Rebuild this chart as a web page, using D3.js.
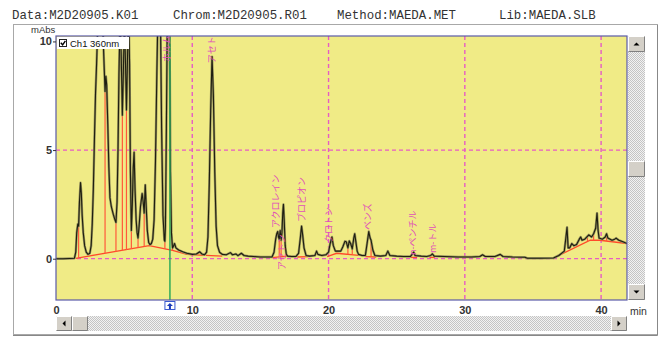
<!DOCTYPE html>
<html>
<head>
<meta charset="utf-8">
<script src="https://cdn.jsdelivr.net/npm/d3@7"></script>
<style>
  body { margin: 0; background: #fff; }
</style>
</head>
<body>
<script>
// header fields of the run
const headerTexts = ["Data:M2D20905.K01", "Chrom:M2D20905.R01", "Method:MAEDA.MET", "Lib:MAEDA.SLB"];

// chromatogram trace, [time min, mAbs]
const trace = [
  [0,0.0],[0.5,0.0],[1.0,0.01],[1.35,0.02],[1.45,0.3],[1.52,1.2],[1.6,1.6],[1.66,1.5],[1.72,2.6],[1.8,3.5],
  [1.86,3.0],[1.92,2.0],[2.0,1.2],[2.1,0.6],[2.22,0.3],[2.35,0.2],[2.48,0.25],[2.58,0.6],[2.66,1.6],[2.74,3.2],
  [2.82,5.5],[2.9,7.6],[2.98,9.0],[3.06,10.6],[3.2,12.5],[3.35,12.5],[3.48,9.8],[3.6,7.7],[3.66,8.4],[3.72,8.0],
  [3.8,6.2],[3.88,4.2],[3.96,2.8],[4.06,2.4],[4.2,2.05],[4.32,1.8],[4.4,1.67],[4.48,2.6],[4.55,5.0],[4.62,8.5],
  [4.7,11.0],[4.78,9.5],[4.87,6.6],[4.95,8.8],[5.02,11.0],[5.1,9.0],[5.17,6.85],[5.24,9.0],[5.32,11.5],[5.4,9.0],
  [5.46,4.0],[5.53,1.3],[5.6,2.5],[5.67,4.2],[5.73,4.9],[5.8,3.2],[5.88,1.8],[5.95,1.2],[6.02,0.95],[6.1,1.5],
  [6.2,2.4],[6.32,3.0],[6.4,2.6],[6.47,2.1],[6.55,3.4],[6.62,2.4],[6.7,1.3],[6.8,0.75],[6.9,0.65],[7.0,0.7],
  [7.1,0.9],[7.2,1.8],[7.3,4.5],[7.4,8.5],[7.5,12],[7.65,12],[7.75,6],[7.85,2.0],[7.95,0.85],[7.99,0.8],
  [8.03,1.5],[8.1,6],[8.18,12],[8.32,12],[8.4,4],[8.47,1.2],[8.55,0.5],[8.6,0.55],[8.7,0.7],[8.8,0.5],
  [9.0,0.4],[9.3,0.32],[9.6,0.25],[10.0,0.2],[10.3,0.22],[10.55,0.32],[10.7,0.22],[10.9,0.18],[11.05,0.3],[11.15,1.0],
  [11.25,3.5],[11.35,6.8],[11.45,9.3],[11.55,7.5],[11.65,4.0],[11.75,1.5],[11.85,0.6],[12.0,0.3],[12.2,0.2],[12.5,0.18],
  [12.8,0.28],[12.95,0.18],[13.2,0.22],[13.35,0.14],[13.6,0.25],[13.8,0.15],[14.1,0.12],[14.5,0.1],[15.0,0.08],[15.5,0.08],
  [15.85,0.08],[16.0,0.3],[16.12,0.9],[16.2,1.15],[16.27,1.25],[16.33,1.0],[16.38,0.9],[16.45,1.3],[16.52,0.85],[16.58,1.2],
  [16.64,2.1],[16.69,2.5],[16.75,1.7],[16.82,0.6],[16.9,0.2],[17.0,0.12],[17.3,0.1],[17.6,0.1],[17.8,0.25],[17.92,0.9],
  [18.02,1.5],[18.1,1.1],[18.2,0.5],[18.35,0.15],[18.6,0.12],[19.0,0.15],[19.12,0.35],[19.22,0.2],[19.5,0.15],[19.8,0.18],
  [20.0,0.3],[20.12,0.7],[20.25,1.0],[20.35,0.6],[20.5,0.35],[20.7,0.35],[20.9,0.35],[21.05,0.55],[21.2,0.8],[21.3,0.78],
  [21.42,0.5],[21.52,0.82],[21.62,0.7],[21.74,0.45],[21.85,0.95],[21.92,1.15],[22.0,0.8],[22.1,0.35],[22.2,0.2],[22.45,0.15],
  [22.7,0.15],[22.85,0.8],[22.95,1.25],[23.05,0.95],[23.12,0.85],[23.25,0.4],[23.4,0.15],[23.8,0.12],[24.2,0.15],[24.35,0.35],
  [24.5,0.15],[25.0,0.12],[25.5,0.1],[26.0,0.1],[26.15,0.22],[26.25,0.3],[26.35,0.15],[26.8,0.12],[27.2,0.1],[27.5,0.15],
  [27.62,0.22],[27.75,0.12],[28.5,0.1],[29.5,0.08],[30.5,0.08],[31.1,0.1],[31.3,0.18],[31.5,0.1],[32.2,0.1],[32.6,0.2],
  [32.8,0.1],[33.5,0.08],[34.4,0.07],[34.6,0.02],[35.5,0.02],[36.5,0.03],[36.9,0.15],[37.3,0.35],[37.42,1.0],[37.5,1.45],
  [37.58,0.5],[37.7,0.5],[37.85,0.7],[38.0,0.6],[38.2,0.65],[38.4,0.9],[38.5,1.0],[38.6,0.85],[38.8,0.9],[39.1,1.1],
  [39.3,1.0],[39.45,1.15],[39.6,1.4],[39.7,2.1],[39.78,1.3],[39.85,0.95],[40.1,0.9],[40.3,1.0],[40.4,1.15],[40.5,0.95],
  [40.8,0.85],[41.0,0.9],[41.1,0.95],[41.3,0.85],[41.6,0.78],[41.9,0.7]
];

// integration baselines (red)
const baselines = [
  [[1.45,0.02],[6.84,0.6],[8.55,0.38],[9.6,0.2],[10.9,0.15]],
  [[11.0,0.15],[12.2,0.12]],
  [[15.85,0.05],[16.95,0.12]],
  [[17.7,0.08],[18.5,0.1]],
  [[19.9,0.1],[20.6,0.25],[22.2,0.15]],
  [[22.7,0.1],[23.5,0.08]],
  [[26.0,0.06],[26.5,0.06]],
  [[27.4,0.06],[27.8,0.06]],
  [[36.5,0.03],[39.2,0.85],[39.9,0.85],[41.9,0.7]]
];

// peak drop lines [time, bottom, top]
const dropLines = [
  [1.66,0.03,1.5],[3.6,0.25,7.7],[4.4,0.32,1.67],[4.87,0.37,6.6],[5.17,0.41,6.85],[5.53,0.45,1.3],
  [6.02,0.5,0.95],[6.47,0.56,2.1],[7.99,0.45,0.8],[8.55,0.38,0.5],
  [16.38,0.09,0.9],[16.52,0.1,0.85],[21.42,0.2,0.5],[21.74,0.18,0.45],[23.12,0.08,0.85],
  [39.0,0.8,1.05],[39.45,0.85,1.15],[40.4,0.82,1.1]
];

// peak names
const labelNames = ["ホルム", "アセト", "アクロレイン", "アセトン", "プロピオン", "クロトン", "ベンズ", "n-ペンチル", "m-トル"];
const labelTimes = [8.14, 11.45, 16.14, 16.58, 18.05, 20.03, 22.89, 26.19, 27.66];
const labelLevels = [9.05, 9.0, 1.41, -0.52, 1.69, 0.72, 1.32, 0.17, 0.26];

const xTicks = [0, 10, 20, 30, 40];
const yTicks = [0, 5, 10];
const gridX = [10, 20, 30, 40];
const gridY = [0, 5];
const cursorTime = 8.36;

const W = 668, H = 338;
const pLeft = 56, pRight = 627, pTop = 36, pBottom = 300;

const x = d3.scaleLinear().domain([0, 41.9]).range([pLeft, pRight]);
const y = d3.scaleLinear().domain([-1.9, 10.25]).range([pBottom, pTop]);

const svg = d3.select("body").append("svg")
    .attr("width", W)
    .attr("height", H)
    .style("display", "block");

const defs = svg.append("defs");
defs.append("clipPath").attr("id", "plotClip")
  .append("rect").attr("x", pLeft).attr("y", pTop).attr("width", pRight - pLeft).attr("height", pBottom - pTop);
let pat = defs.append("pattern").attr("id", "dither")
    .attr("width", 2).attr("height", 2).attr("patternUnits", "userSpaceOnUse");
pat.append("rect").attr("width", 2).attr("height", 2).attr("fill", "#f2f2f2");
pat.append("rect").attr("width", 1).attr("height", 1).attr("fill", "#c4c4c4");
pat.append("rect").attr("x", 1).attr("y", 1).attr("width", 1).attr("height", 1).attr("fill", "#c4c4c4");

// header
svg.selectAll(".hdr")
  .data(headerTexts)
  .enter().append("text")
    .attr("class", "hdr")
    .attr("x", (d, i) => [12, 173, 337, 499][i])
    .attr("y", 19)
    .style("font-family", "'Liberation Mono', 'DejaVu Sans Mono', monospace")
    .style("font-size", "12.4px")
    .style("fill", "#333")
    .text(d => d);

// panel frame
svg.append("rect")
    .attr("x", 13.5).attr("y", 24.5).attr("width", 644).attr("height", 310)
    .attr("fill", "#fff").attr("stroke", "#a8a8a8");
svg.append("path")
    .attr("d", "M657.5,25 V335.5 H13")
    .attr("fill", "none").attr("stroke", "#888");

// plot background
svg.append("rect")
    .attr("x", pLeft).attr("y", pTop).attr("width", pRight - pLeft).attr("height", pBottom - pTop)
    .attr("fill", "#f0eb86");

// grid
const plot = svg.append("g").attr("clip-path", "url(#plotClip)");
plot.selectAll(".gy")
  .data(gridY)
  .enter().append("line")
    .attr("x1", pLeft).attr("x2", pRight)
    .attr("y1", d => y(d)).attr("y2", d => y(d))
    .attr("stroke", "#e65cc4").attr("stroke-width", 1.2).attr("stroke-dasharray", "4,3");
plot.selectAll(".gx")
  .data(gridX)
  .enter().append("line")
    .attr("x1", d => x(d)).attr("x2", d => x(d))
    .attr("y1", pTop).attr("y2", pBottom)
    .attr("stroke", "#e65cc4").attr("stroke-width", 1.4).attr("stroke-dasharray", "4,3");

// baselines and drop lines
const line = d3.line().x(d => x(d[0])).y(d => y(d[1]));
plot.selectAll(".base")
  .data(baselines)
  .enter().append("path")
    .attr("d", line)
    .attr("fill", "none").attr("stroke", "#ff4a2a").attr("stroke-width", 1.3);
plot.selectAll(".drop")
  .data(dropLines)
  .enter().append("line")
    .attr("x1", d => x(d[0])).attr("x2", d => x(d[0]))
    .attr("y1", d => y(d[1])).attr("y2", d => y(d[2]))
    .attr("stroke", "#ff5a3a").attr("stroke-width", 1.2);

// trace
plot.append("path")
    .datum(trace)
    .attr("d", line)
    .attr("fill", "none")
    .attr("stroke", "#9a9660").attr("stroke-width", 2.4).attr("stroke-linejoin", "round");
plot.append("path")
    .datum(trace)
    .attr("d", line)
    .attr("fill", "none")
    .attr("stroke", "#1e1e10").attr("stroke-width", 1.1).attr("stroke-linejoin", "round");

// cursor
plot.append("line")
    .attr("x1", x(cursorTime)).attr("x2", x(cursorTime))
    .attr("y1", pTop).attr("y2", pBottom)
    .attr("stroke", "#2eaa5a").attr("stroke-width", 1.5);

// peak labels
plot.selectAll(".lbl")
  .data(labelNames)
  .enter().append("text")
    .attr("transform", (d, i) => "translate(" + x(labelTimes[i]) + "," + y(labelLevels[i]) + ") rotate(-90)")
    .attr("dy", "0.35em")
    .style("font-family", "'Noto Sans CJK JP', sans-serif")
    .style("font-size", "9px")
    .style("fill", "#e050b8")
    .text(d => d);

// legend
svg.append("rect").attr("x", 57).attr("y", 37).attr("width", 72).attr("height", 12).attr("fill", "#fff");
svg.append("rect").attr("x", 59.5).attr("y", 39.5).attr("width", 7).attr("height", 7)
    .attr("fill", "#fff").attr("stroke", "#222");
svg.append("path").attr("d", "M60.8,42.8 L62.6,44.8 L65.4,40.8")
    .attr("fill", "none").attr("stroke", "#000").attr("stroke-width", 1.4);
svg.append("text").attr("x", 70).attr("y", 46.8)
    .style("font-family", "'Liberation Sans', Arial, sans-serif")
    .style("font-size", "9.5px").style("fill", "#111")
    .text("Ch1 360nm");

// plot frame
svg.append("rect")
    .attr("x", pLeft).attr("y", pTop).attr("width", pRight - pLeft).attr("height", pBottom - pTop)
    .attr("fill", "none").attr("stroke", "#5a5aa8").attr("stroke-width", 1.2);

// axes
const yAxis = d3.axisLeft(y).tickValues(yTicks).tickSize(3).tickFormat(d3.format("d"));
const yG = svg.append("g").attr("transform", "translate(" + pLeft + ",0)").call(yAxis);
yG.select(".domain").remove();
yG.selectAll("line").attr("stroke", "#333");
yG.selectAll("text")
    .style("font-family", "'Liberation Sans', Arial, sans-serif")
    .style("font-size", "11px").style("font-weight", "bold").style("fill", "#333")
    .attr("x", -4);

const xAxis = d3.axisBottom(x).tickValues(xTicks).tickSize(0).tickFormat(d3.format("d"));
const xG = svg.append("g").attr("transform", "translate(0," + pBottom + ")").call(xAxis);
xG.select(".domain").remove();
xG.selectAll("text")
    .style("font-family", "'Liberation Sans', Arial, sans-serif")
    .style("font-size", "11px").style("font-weight", "bold").style("fill", "#333")
    .attr("y", 6);

svg.append("text").attr("x", 31).attr("y", 33)
    .style("font-family", "'Liberation Sans', Arial, sans-serif")
    .style("font-size", "9.5px").style("fill", "#333")
    .text("mAbs");
svg.append("text").attr("x", 630).attr("y", 315)
    .style("font-family", "'Liberation Sans', Arial, sans-serif")
    .style("font-size", "10.5px").style("fill", "#333")
    .text("min");

// cursor marker
svg.append("rect").attr("x", x(cursorTime) - 5).attr("y", 301.5).attr("width", 10).attr("height", 8)
    .attr("fill", "#fff").attr("stroke", "#3a5ad0");
svg.append("path")
    .attr("d", "M" + x(cursorTime) + ",303 l3,3 h-2 v3 h-2 v-3 h-2 z")
    .attr("fill", "#1a3ab8");

// scrollbars
function button(bx, by, bw, bh, arrow) {
  svg.append("rect").attr("x", bx).attr("y", by).attr("width", bw).attr("height", bh).attr("fill", "#d4d0c8");
  svg.append("path").attr("d", "M" + (bx + 0.5) + "," + (by + bh - 0.5) + " V" + (by + 0.5) + " H" + (bx + bw - 0.5))
      .attr("fill", "none").attr("stroke", "#fff");
  svg.append("path").attr("d", "M" + (bx + 0.5) + "," + (by + bh - 0.5) + " H" + (bx + bw - 0.5) + " V" + (by + 0.5))
      .attr("fill", "none").attr("stroke", "#808080");
  const cx = bx + bw / 2, cy = by + bh / 2;
  let d = null;
  if (arrow === "up") d = "M" + (cx - 3) + "," + (cy + 1.5) + " h6 l-3,-3 z";
  if (arrow === "down") d = "M" + (cx - 3) + "," + (cy - 1.5) + " h6 l-3,3 z";
  if (arrow === "left") d = "M" + (cx + 1.5) + "," + (cy - 3) + " v6 l-3,-3 z";
  if (arrow === "right") d = "M" + (cx - 1.5) + "," + (cy - 3) + " v6 l3,-3 z";
  if (d) svg.append("path").attr("d", d).attr("fill", "#000");
}
svg.append("rect").attr("x", 628).attr("y", pTop).attr("width", 17).attr("height", pBottom - pTop).attr("fill", "url(#dither)");
button(628, pTop, 17, 16, "up");
button(628, 161, 17, 16, null);
button(628, pBottom - 16, 17, 16, "down");

svg.append("rect").attr("x", pLeft).attr("y", 316).attr("width", pRight - pLeft).attr("height", 15).attr("fill", "url(#dither)");
button(pLeft, 316, 16, 15, "left");
button(pLeft + 16, 316, 16, 15, null);
button(pRight - 16, 316, 16, 15, "right");
</script>
</body>
</html>
